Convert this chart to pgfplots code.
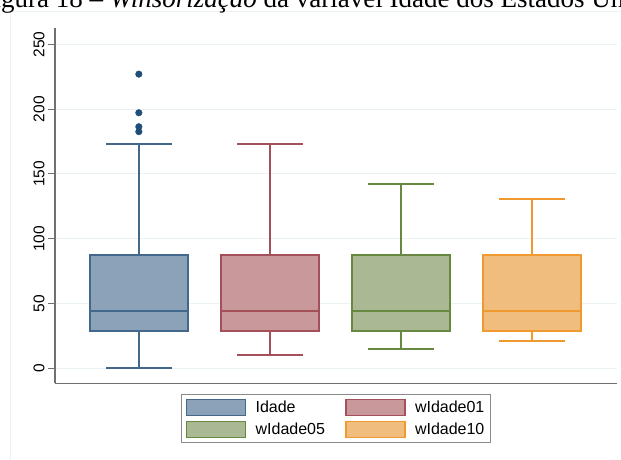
\documentclass[border=0pt]{standalone}
\usepackage{fontspec}
\setmainfont{Liberation Sans}
\newfontfamily\capfont{Liberation Serif}
\usepackage{pgfplots}
\pgfplotsset{compat=1.18}

\definecolor{framecol}{HTML}{EAF2F3}
\definecolor{gridcol}{HTML}{EAF2F3}
\definecolor{axisgrey}{HTML}{707070}
\definecolor{legendgrey}{HTML}{8A8A8A}
\definecolor{outcol}{HTML}{1F4E79}
\definecolor{cAd}{HTML}{42688C}\definecolor{cAf}{HTML}{8BA2B8}
\definecolor{cBd}{HTML}{A4505A}\definecolor{cBf}{HTML}{C8989B}
\definecolor{cCd}{HTML}{688740}\definecolor{cCf}{HTML}{AAB994}
\definecolor{cDd}{HTML}{EE9A2E}\definecolor{cDf}{HTML}{F0BD7F}

% box half width and whisker cap half width, in x units
\def\bw{0.375}
\def\cw{0.25}
% one box: #1 = position, #2 = draw colour, #3 = fill colour,
% #4 lower whisker, #5 lower quartile, #6 median, #7 upper quartile, #8 upper whisker
\newcommand{\statbox}[8]{%
  \addplot[draw=#2, line width=1.8pt, forget plot] coordinates {(#1,#4) (#1,#5)};
  \addplot[draw=#2, line width=1.8pt, forget plot] coordinates {(#1,#7) (#1,#8)};
  \addplot[draw=#2, line width=1.8pt, forget plot] coordinates {(#1-\cw,#4) (#1+\cw,#4)};
  \addplot[draw=#2, line width=1.8pt, forget plot] coordinates {(#1-\cw,#8) (#1+\cw,#8)};
  \addplot[draw=#2, fill=#3, line width=2pt, forget plot] coordinates
    {(#1-\bw,#5) (#1+\bw,#5) (#1+\bw,#7) (#1-\bw,#7)} -- cycle;
  \addplot[draw=#2, line width=2.2pt, forget plot] coordinates {(#1-\bw,#6) (#1+\bw,#6)};
}

\begin{document}
\begin{tikzpicture}
\useasboundingbox (0pt,0pt) rectangle (621pt,459pt);
\clip (0pt,0pt) rectangle (621pt,459pt);
% light outer frame of the graph region
\draw[framecol, line width=1pt] (10pt,-20pt) rectangle (660pt,447pt);
% figure caption (runs past the page edges)
\node[anchor=base west, inner sep=0, font=\capfont\fontsize{27}{32}\selectfont]
  at (-21.5pt,451pt) {Figura 18 – \textit{Winsorização} da variável Idade dos Estados Unidos};

\begin{axis}[
  at={(55pt,75.7pt)}, anchor=south west,
  scale only axis, width=562pt, height=355.3pt,
  xmin=0.36, xmax=4.65, ymin=-11.6, ymax=262.6,
  axis x line=bottom, axis y line=left,
  axis line style={-, draw=axisgrey, line width=1.2pt},
  xtick=\empty, ytick={0,50,...,250},
  ymajorgrids, major grid style={gridcol, line width=1pt},
  tick style={axisgrey, line width=1pt}, major tick length=7pt, tick align=outside,
  yticklabel style={rotate=90, anchor=south, font=\fontsize{15.5}{18}\selectfont},
  /pgf/number format/assume math mode=true,
  legend columns=2, legend cell align=left,
  legend style={at={(0.5,-0.030)}, anchor=north, draw=legendgrey, line width=1pt,
    font=\fontsize{16}{19}\selectfont, inner xsep=4pt, inner ysep=2pt,
    /tikz/every even column/.append style={column sep=18pt}},
  legend image code/.code={%
    \path[draw=none, fill=none] (-1pt,-11pt) rectangle (67pt,11pt);
    \draw[#1, line width=1.6pt] (0pt,-8pt) rectangle (59pt,8pt);},
]
\addlegendimage{draw=cAd, fill=cAf}
\addlegendimage{draw=cBd, fill=cBf}
\addlegendimage{draw=cCd, fill=cCf}
\addlegendimage{draw=cDd, fill=cDf}
\legend{Idade, wIdade01, wIdade05, wIdade10}

\statbox{1}{cAd}{cAf}{0}{29}{44.4}{87.4}{172.8}
\statbox{2}{cBd}{cBf}{10}{29}{44.4}{87.4}{172.8}
\statbox{3}{cCd}{cCf}{15.1}{29}{44.4}{87.4}{142.2}
\statbox{4}{cDd}{cDf}{21.3}{29}{44.4}{87.4}{130.4}

% outside values of Idade
\addplot[only marks, mark=*, mark size=3.3pt, draw=outcol, fill=outcol, forget plot]
  coordinates {(1,227) (1,197.2) (1,186.4) (1,182.6)};
\end{axis}
\end{tikzpicture}
\end{document}
